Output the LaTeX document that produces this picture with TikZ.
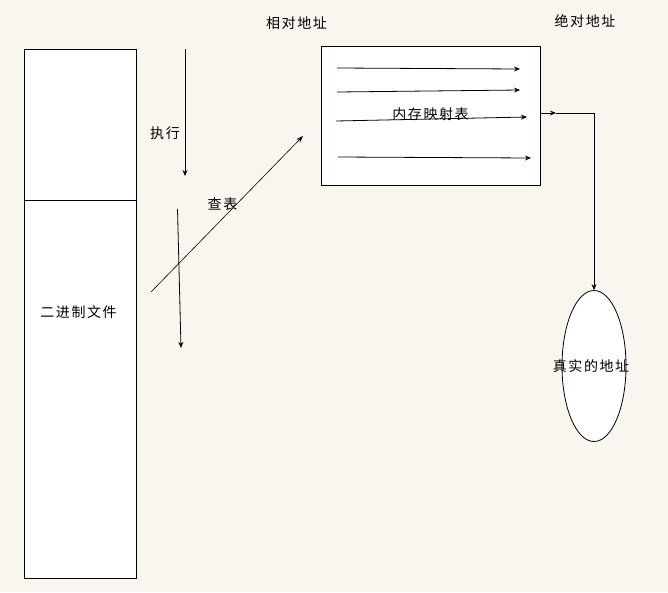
\documentclass[tikz,border=0pt]{standalone}
\usepackage{fontspec}
\setmainfont{Noto Sans CJK SC}[LetterSpace=11]
\usetikzlibrary{arrows.meta,shapes.geometric}
\definecolor{bgc}{RGB}{249,246,239}
\tikzset{
  box/.style={draw, fill=white, line width=0.8pt, inner sep=0pt, anchor=north west},
  lbl/.style={font=\fontsize{14}{16}\selectfont, inner sep=0pt},
  conn/.style={line width=0.8pt, -{Stealth[length=6pt,width=5pt]}},
  plain/.style={line width=0.8pt},
  diag/.style={line width=0.6pt, -{Stealth[length=7pt,width=5pt]}}
}
\begin{document}
\begin{tikzpicture}[x=1pt,y=-1pt]
\fill[bgc] (0,0) rectangle (668,592);
\useasboundingbox (0,0) rectangle (668,592);
% binary file
\node[box, minimum width=112pt, minimum height=529pt] (bin) at (24,49) {};
\coordinate (binL) at (24,200);
\coordinate (binR) at (136,200);
\draw[plain] (binL) -- (binR);
\node[lbl] (binT) at (78.5,312) {二进制文件};
% execute arrow
\coordinate (e1) at (185,49);
\coordinate (e2) at (185,176);
\draw[conn] (e1) -- (e2);
\node[lbl] (exec) at (165,133) {执行};
% second down arrow
\coordinate (d1) at (177.5,209);
\coordinate (d2) at (181,348);
\draw[conn] (d1) -- (d2);
% lookup diagonal
\coordinate (l1) at (151,292);
\coordinate (l2) at (303,136);
\draw[diag] (l1) -- (l2);
\node[lbl] (look) at (222.5,204) {查表};
% labels
\node[lbl] (rel) at (296.5,23) {相对地址};
\node[lbl] (abs) at (585,21) {绝对地址};
% memory map
\node[box, minimum width=219pt, minimum height=139pt] (map) at (321,46) {};
\node[lbl] (mapT) at (430.5,114) {内存映射表};
\coordinate (m1a) at (337,68);  \coordinate (m1b) at (520,69);
\coordinate (m2a) at (337,92);  \coordinate (m2b) at (520,90);
\coordinate (m3a) at (336,121); \coordinate (m3b) at (527,117);
\coordinate (m4a) at (338,157); \coordinate (m4b) at (531,158);
\draw[conn] (m1a) -- (m1b);
\draw[conn] (m2a) -- (m2b);
\draw[conn] (m3a) -- (m3b);
\draw[conn] (m4a) -- (m4b);
% real address
\node[ellipse, draw, fill=white, line width=0.8pt, minimum width=64pt, minimum height=151pt, inner sep=0pt] (real) at (594,366) {};
\node[lbl] (realT) at (591,366) {真实的地址};
% output connector
\coordinate (o1) at (540,113);
\coordinate (o2) at (556,113);
\coordinate (o3) at (594,113);
\draw[conn] (o1) -- (o2);
\draw[conn] (o2) -- (o3) -- (real.north);
\end{tikzpicture}
\end{document}
